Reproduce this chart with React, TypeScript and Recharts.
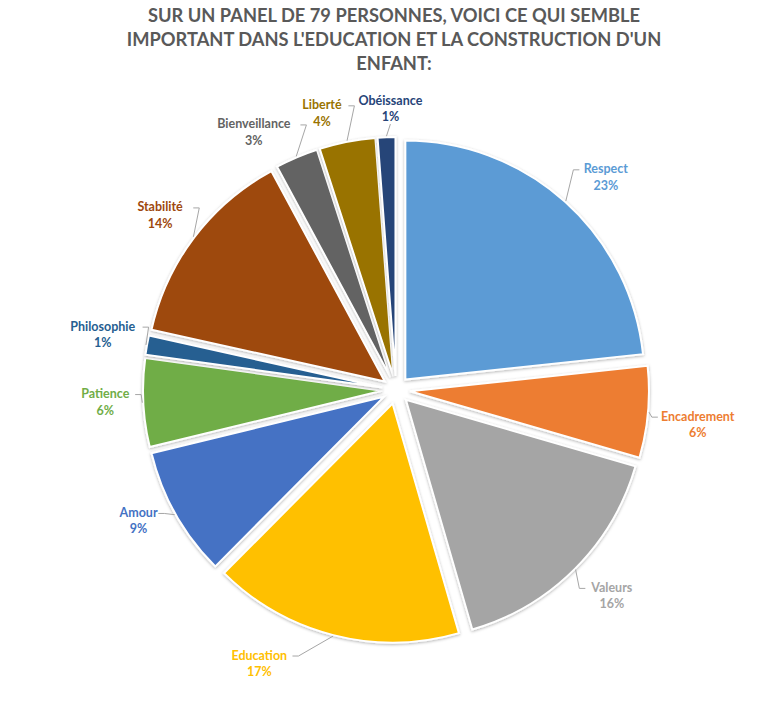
import { PieChart, Pie, Sector } from 'recharts';

const categories = ['Respect', 'Encadrement', 'Valeurs', 'Education', 'Amour', 'Patience', 'Philosophie', 'Stabilité', 'Bienveillance', 'Liberté', 'Obéissance'];
const shares = [23.4, 6.2, 16.1, 17.0, 8.8, 6.0, 1.3, 13.7, 2.9, 3.8, 1.2];
const colors = ['#5B9BD5', '#ED7D31', '#A5A5A5', '#FFC000', '#4472C4', '#70AD47', '#255E91', '#9E480E', '#636363', '#997300', '#264478'];

const data = categories.map((name, i) => ({ name, value: shares[i] }));

// label placement tweaks (Excel "best fit"): angle shift in degrees (clockwise), radius
const labelAngleShift = [3, 2, -1, 12, 2, 0, 0, -1, -6, -4, 1];
const labelRadius = [297, 304, 300, 308, 290, 291, 298, 292, 292, 284, 279];

const RAD = Math.PI / 180;
const OFFSET = 14;
const FONT = 'Lato, "Open Sans", sans-serif';

function SliceLabel(props: any) {
	const { cx, cy, outerRadius, startAngle, endAngle, midAngle, percent, index } = props;
	const dx = Math.cos(-midAngle * RAD);
	const dy = Math.sin(-midAngle * RAD);
	const color = colors[index];
	const name = categories[index];

	const la = midAngle - labelAngleShift[index];
	const lr = labelRadius[index];
	const ldx = Math.cos(-la * RAD);
	const lx = cx + lr * ldx;
	const ly = cy + lr * Math.sin(-la * RAD) - 3;
	const w = name.length * 6.7;

	// leader line from slice edge to label
	const px = cx + (OFFSET + outerRadius + 1) * dx;
	const py = cy + (OFFSET + outerRadius + 1) * dy;
	let pts: number[][];
	if (ldx > 0.25) {
		const ax = lx - w / 2 - 3;
		pts = [[px, py], [ax - 6, ly - 7], [ax, ly - 7]];
	} else if (ldx < -0.25) {
		const ax = lx + w / 2 + 3;
		pts = [[px, py], [ax + 6, ly - 7], [ax, ly - 7]];
	} else if (dy < 0) {
		const ax = lx + 18;
		pts = [[px, py], [ax + 6, ly + 9], [ax, ly + 9]];
		if (Math.abs(px - lx) < 6) pts = [[px, py], [lx, ly + 16]];
	} else {
		pts = [[px, py], [lx, ly - 17]];
	}
	const dist = Math.hypot(pts[0][0] - pts[pts.length - 1][0], pts[0][1] - pts[pts.length - 1][1]);

	return (
		<g>
			{index === 0 && (
				<defs>
					<filter id='sliceShadow' x='-20%' y='-20%' width='140%' height='140%'>
						<feDropShadow dx='0' dy='1' stdDeviation='1.5' floodColor='#000' floodOpacity='0.3' />
					</filter>
				</defs>
			)}
			<Sector
				cx={cx + OFFSET * dx}
				cy={cy + OFFSET * dy}
				innerRadius={0}
				outerRadius={outerRadius}
				startAngle={startAngle}
				endAngle={endAngle}
				fill={color}
				stroke='#fff'
				strokeWidth={2}
				filter='url(#sliceShadow)'
			/>
			{dist > 8 && (
				<polyline points={pts.map((p) => p.join(',')).join(' ')} fill='none' stroke='#A6A6A6' strokeWidth={1} />
			)}
			<text x={lx} y={ly - 3.5} textAnchor='middle' fill={color} fontFamily={FONT} fontWeight={700} fontSize={12.5}>
				{name}
			</text>
			<text x={lx} y={ly + 13} textAnchor='middle' fill={color} fontFamily={FONT} fontWeight={700} fontSize={12.5}>
				{Math.round(percent * 100)}%
			</text>
		</g>
	);
}

export default function App() {
	return (
		<div style={{ position: 'absolute', left: 0, top: 0, width: 782, height: 701, background: '#fff' }}>
			<div
				style={{
					position: 'absolute',
					left: 0,
					top: 3,
					width: 788,
					textAlign: 'center',
					fontFamily: FONT,
					fontWeight: 700,
					fontSize: 18.3,
					lineHeight: '24px',
					color: '#595959',
				}}
			>
				SUR UN PANEL DE 79 PERSONNES, VOICI CE QUI SEMBLE
				<br />
				IMPORTANT DANS L'EDUCATION ET LA CONSTRUCTION D'UN
				<br />
				ENFANT:
			</div>
			<PieChart width={782} height={701} style={{ position: 'absolute', left: 0, top: 0 }}>
				<Pie
					data={data}
					dataKey='value'
					nameKey='name'
					cx={391}
					cy={385}
					outerRadius={239}
					startAngle={90}
					endAngle={-270}
					fill='none'
					stroke='none'
					label={SliceLabel}
					labelLine={false}
					isAnimationActive={false}
				/>
			</PieChart>
		</div>
	);
}
